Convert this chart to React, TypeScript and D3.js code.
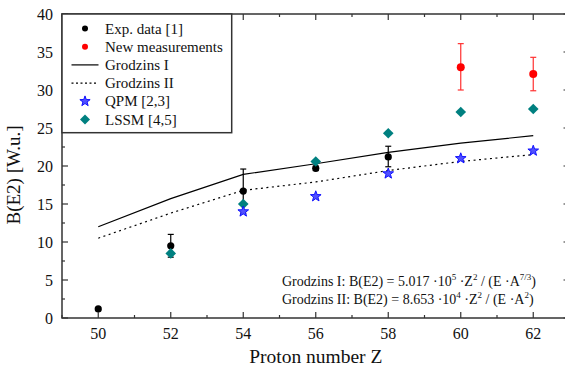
import React from "react";
import * as d3 from "d3";

const Z = [50, 52, 54, 56, 58, 60, 62];
const expZ = [50, 52, 54, 56, 58];
const expVal = [1.2, 9.5, 16.7, 19.7, 21.2];
const expLo = [1.2, 8.0, 13.8, 19.4, 19.9];
const expHi = [1.2, 11.0, 19.6, 20.0, 22.6];
const newZ = [60, 62];
const newVal = [33.0, 32.1];
const newLo = [30.0, 29.9];
const newHi = [36.1, 34.3];
const grodzinsI = [12.0, 15.7, 18.9, 20.3, 21.8, 23.0, 24.0];
const grodzinsII = [10.5, 13.8, 16.8, 17.9, 19.4, 20.6, 21.5];
const qpmZ = [54, 56, 58, 60, 62];
const qpmVal = [14.0, 16.0, 19.0, 21.0, 22.0];
const lssmZ = [52, 54, 56, 58, 60, 62];
const lssmVal = [8.5, 15.0, 20.6, 24.3, 27.1, 27.5];
const xTicks = [50, 52, 54, 56, 58, 60, 62];
const xMinor = [49, 51, 53, 55, 57, 59, 61, 63];
const yTicks = [0, 5, 10, 15, 20, 25, 30, 35, 40];
const yMinor = [2.5, 7.5, 12.5, 17.5, 22.5, 27.5, 32.5, 37.5];
const legendLabels = ["Exp. data [1]", "New measurements", "Grodzins I", "Grodzins II", "QPM [2,3]", "LSSM [4,5]"];

const FONT = "'Liberation Serif', 'Times New Roman', serif";

function starPath(cx: number, cy: number, R: number, r: number) {
  const pts: string[] = [];
  for (let i = 0; i < 10; i++) {
    const a = -Math.PI / 2 + (i * Math.PI) / 5;
    const rad = i % 2 === 0 ? R : r;
    pts.push(`${(cx + rad * Math.cos(a)).toFixed(2)},${(cy + rad * Math.sin(a)).toFixed(2)}`);
  }
  return "M" + pts.join("L") + "Z";
}

function diamond(cx: number, cy: number, s: number) {
  return `M${cx},${cy - s}L${cx + s},${cy}L${cx},${cy + s}L${cx - s},${cy}Z`;
}

export default function App() {
  const W = 565, H = 367;
  const left = 62, right = 569.5, top = 14, bottom = 318;
  const x = d3.scaleLinear().domain([49, 63]).range([left, right]);
  const y = d3.scaleLinear().domain([0, 40]).range([bottom, top]);
  const line = d3.line<number>().x((_, i) => x(Z[i])).y((d) => y(d));
  const axisColor = "#333";
  const teal = "#008080";
  const blue = "#1010ff";

  const errBar = (zx: number, lo: number, hi: number, color: string, key: string) => {
    const cx = x(zx);
    return (
      <g key={key} stroke={color} strokeWidth={1.2}>
        <line x1={cx} x2={cx} y1={y(lo)} y2={y(hi)} />
        <line x1={cx - 3} x2={cx + 3} y1={y(hi)} y2={y(hi)} />
        <line x1={cx - 3} x2={cx + 3} y1={y(lo)} y2={y(lo)} />
      </g>
    );
  };

  const legX = 85, legText = 105, legY0 = 28.5, legDy = 18.2;

  return (
    <svg width={W} height={H} style={{ position: "absolute", left: 0, top: 0, background: "#fff" }} fontFamily={FONT}>
      <rect x={0} y={0} width={W} height={H} fill="#fff" />
      {/* theory lines */}
      <path d={line(grodzinsI) || ""} fill="none" stroke="#000" strokeWidth={1.2} />
      <path d={line(grodzinsII) || ""} fill="none" stroke="#000" strokeWidth={1.2} strokeDasharray="2,3.5" />
      {/* error bars */}
      {expZ.map((z, i) => (expHi[i] > expLo[i] ? errBar(z, expLo[i], expHi[i], "#000", "e" + i) : null))}
      {newZ.map((z, i) => errBar(z, newLo[i], newHi[i], "#ff3030", "n" + i))}
      {/* data */}
      {expZ.map((z, i) => (
        <circle key={"ec" + i} cx={x(z)} cy={y(expVal[i])} r={3.6} fill="#000" />
      ))}
      {newZ.map((z, i) => (
        <circle key={"nc" + i} cx={x(z)} cy={y(newVal[i])} r={4} fill="#ff0000" />
      ))}
      {lssmZ.map((z, i) => (
        <path key={"l" + i} d={diamond(x(z), y(lssmVal[i]), 5.3)} fill={teal} />
      ))}
      {qpmZ.map((z, i) => (
        <path key={"q" + i} d={starPath(x(z), y(qpmVal[i]), 5.6, 2.3)} fill="#5050ff" stroke={blue} strokeWidth={1} />
      ))}
      {/* frame */}
      <rect x={left} y={top} width={right - left} height={bottom - top} fill="none" stroke={axisColor} strokeWidth={1.5} />
      {/* ticks */}
      <g stroke={axisColor} strokeWidth={1.2}>
        {xTicks.map((t) => (
          <g key={"xt" + t}>
            <line x1={x(t)} x2={x(t)} y1={bottom} y2={bottom - 6} />
            <line x1={x(t)} x2={x(t)} y1={top} y2={top + 6} />
          </g>
        ))}
        {xMinor.map((t) => (
          <g key={"xm" + t}>
            <line x1={x(t)} x2={x(t)} y1={bottom} y2={bottom - 3} />
            <line x1={x(t)} x2={x(t)} y1={top} y2={top + 3} />
          </g>
        ))}
        {yTicks.map((t) => (
          <g key={"yt" + t}>
            <line x1={left} x2={left + 6} y1={y(t)} y2={y(t)} />
            <line x1={right} x2={right - 6} y1={y(t)} y2={y(t)} />
          </g>
        ))}
        {yMinor.map((t) => (
          <g key={"ym" + t}>
            <line x1={left} x2={left + 3} y1={y(t)} y2={y(t)} />
            <line x1={right} x2={right - 3} y1={y(t)} y2={y(t)} />
          </g>
        ))}
      </g>
      {/* tick labels */}
      <g fontSize={16} fill="#111">
        {xTicks.map((t) => (
          <text key={"xl" + t} x={x(t)} y={339} textAnchor="middle">{t}</text>
        ))}
        {yTicks.map((t) => (
          <text key={"yl" + t} x={53} y={y(t) + 5.5} textAnchor="end">{t}</text>
        ))}
      </g>
      {/* axis labels */}
      <text x={(left + right) / 2} y={363} textAnchor="middle" fontSize={19.5} fill="#111">Proton number Z</text>
      <text transform={`translate(20,175) rotate(-90)`} textAnchor="middle" fontSize={19} fill="#111">B(E2) [W.u.]</text>
      {/* legend */}
      <rect x={left} y={top} width={231.7 - left} height={132.7 - top} fill="#fff" stroke={axisColor} strokeWidth={1.5} />
      <circle cx={legX} cy={legY0} r={3} fill="#000" />
      <circle cx={legX} cy={legY0 + legDy} r={3} fill="#ff0000" />
      <line x1={71.5} x2={98.5} y1={legY0 + 2 * legDy} y2={legY0 + 2 * legDy} stroke="#000" strokeWidth={1.2} />
      <line x1={71.5} x2={98.5} y1={legY0 + 3 * legDy} y2={legY0 + 3 * legDy} stroke="#000" strokeWidth={1.2} strokeDasharray="2,2.5" />
      <path d={starPath(legX, legY0 + 4 * legDy, 5.4, 2.2)} fill="#5050ff" stroke={blue} strokeWidth={1} />
      <path d={diamond(legX, legY0 + 5 * legDy, 5)} fill={teal} />
      <g fontSize={15} fill="#111">
        {legendLabels.map((l, i) => (
          <text key={l} x={legText} y={legY0 + i * legDy + 5}>{l}</text>
        ))}
      </g>
      {/* formulas */}
      <g fontSize={14} fill="#111">
        <text x={282} y={286}>
          Grodzins I: B(E2) = 5.017 ·10<tspan dy={-6} fontSize={9}>5</tspan>
          <tspan dy={6}> ·Z</tspan><tspan dy={-6} fontSize={9}>2</tspan>
          <tspan dy={6}> / (E ·A</tspan><tspan dy={-6} fontSize={9}>7/3</tspan>
          <tspan dy={6}>)</tspan>
        </text>
        <text x={282} y={304}>
          Grodzins II: B(E2) = 8.653 ·10<tspan dy={-6} fontSize={9}>4</tspan>
          <tspan dy={6}> ·Z</tspan><tspan dy={-6} fontSize={9}>2</tspan>
          <tspan dy={6}> / (E ·A</tspan><tspan dy={-6} fontSize={9}>2</tspan>
          <tspan dy={6}>)</tspan>
        </text>
      </g>
    </svg>
  );
}
